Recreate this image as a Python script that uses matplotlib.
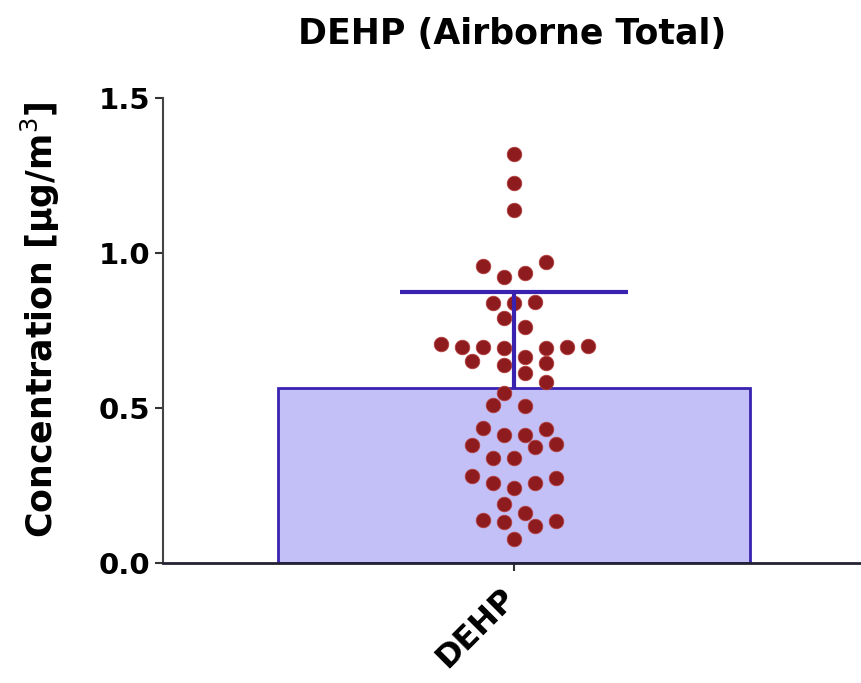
import numpy as np
import matplotlib
matplotlib.use('Agg')
import matplotlib.pyplot as plt
from matplotlib.transforms import ScaledTranslation

plt.rcParams['font.family'] = ['DejaVu Sans']

# DEHP airborne total concentration per sample (ug/m3), in sample order
groups = ['DEHP']
conc = [1.320, 1.225, 1.140,
        0.958, 0.923, 0.935, 0.970,
        0.839, 0.840, 0.842,
        0.790, 0.760,
        0.706, 0.697, 0.697, 0.693, 0.665, 0.693, 0.697, 0.700,
        0.652, 0.638, 0.613, 0.645,
        0.548, 0.585,
        0.510, 0.506,
        0.435, 0.413, 0.413, 0.432,
        0.381, 0.339, 0.339, 0.374, 0.383,
        0.281, 0.258, 0.242, 0.258, 0.274,
        0.190, 0.161,
        0.138, 0.132, 0.119, 0.135,
        0.077]
bar_mean = [0.565]
bar_sd = [0.309]

W, H, DPI = 861, 683, 100
fig = plt.figure(figsize=(W / DPI, H / DPI), dpi=DPI)
ax = fig.add_axes([163 / W, 120 / H, 698 / W, 465 / H])
ax.set_xlim(-0.596, 0.589)
ax.set_ylim(0, 1.5)

XPX = 698 / 1.185   # pixels per x unit
YPX = 465 / 1.5     # pixels per y unit
STEP = 10.5         # column spacing, px


def column_scatter(vals, row_h, min_dist=14):
    # group close values into rows (from the top down), spread each row
    # symmetrically, then nudge any point that lands on one already drawn
    vals = np.asarray(vals)
    order = np.argsort(-vals, kind='stable')
    rows, cur, start = [], [], None
    for i in order:
        if cur and start - vals[i] >= row_h:
            rows.append(cur)
            cur = []
        if not cur:
            start = vals[i]
        cur.append(i)
    rows.append(cur)

    cols = np.zeros(len(vals))
    placed = []
    for r in rows:
        r = sorted(r)
        n = len(r)
        for j, i in enumerate(r):
            target = 2 * j - (n - 1)
            sgn = 1 if target >= 0 else -1
            y = vals[i] * YPX
            for d in range(0, 12):
                hit = False
                for k in ([target + sgn * d, target - sgn * d] if d else [target]):
                    x = k * STEP
                    if all((x - px) ** 2 + (y - py) ** 2 >= min_dist ** 2
                           for px, py in placed):
                        hit = True
                        break
                if hit:
                    break
            placed.append((x, y))
            cols[i] = k
    return cols * STEP / XPX


vals = np.array(conc)
xs = column_scatter(vals, 0.05)

ax.bar(0, bar_mean[0], width=0.8, color='#c3c0f7', edgecolor='#3a22b0',
       linewidth=2, zorder=1)
ax.scatter(xs, vals, s=110, color='#8e1b1e', edgecolors='#b5403f',
           linewidths=0.6, zorder=3)

# upper SD whisker only
top = bar_mean[0] + bar_sd[0]
ax.vlines(0, bar_mean[0], top, color='#3a22b0', linewidth=3, zorder=4)
ax.hlines(top, -114 / XPX, 114 / XPX, color='#3a22b0', linewidth=3, zorder=4)

ax.set_yticks([0.0, 0.5, 1.0, 1.5])
ax.set_yticklabels(['0.0', '0.5', '1.0', '1.5'])
ax.set_xticks([0])
ax.set_xticklabels(groups, rotation=45, ha='right', rotation_mode='anchor')
ax.tick_params(axis='both', direction='out', length=6, width=1.5, color='#333333')
ax.tick_params(axis='y', pad=3)
ax.tick_params(axis='x', pad=8)
for lab in ax.get_yticklabels():
    lab.set_fontsize(21)
    lab.set_fontweight('bold')
for lab in ax.get_xticklabels():
    lab.set_fontsize(23)
    lab.set_fontweight('bold')
    lab.set_transform(lab.get_transform() + ScaledTranslation(-0.14, 0, fig.dpi_scale_trans))

ax.spines['top'].set_visible(False)
ax.spines['right'].set_visible(False)
ax.spines['left'].set_color('#444444')
ax.spines['left'].set_linewidth(1.5)
ax.spines['bottom'].set_color('#222233')
ax.spines['bottom'].set_linewidth(2)

ax.set_ylabel('Concentration [µg/m$^3$]', fontsize=25, fontweight='bold')
ax.yaxis.set_label_coords((62 - 163) / 698, 0.523)
fig.text((163 + 861) / 2 / W, 1 - 34 / H, 'DEHP (Airborne Total)',
         ha='center', va='center', fontsize=25, fontweight='bold')

fig.savefig('out.png', dpi=DPI)
